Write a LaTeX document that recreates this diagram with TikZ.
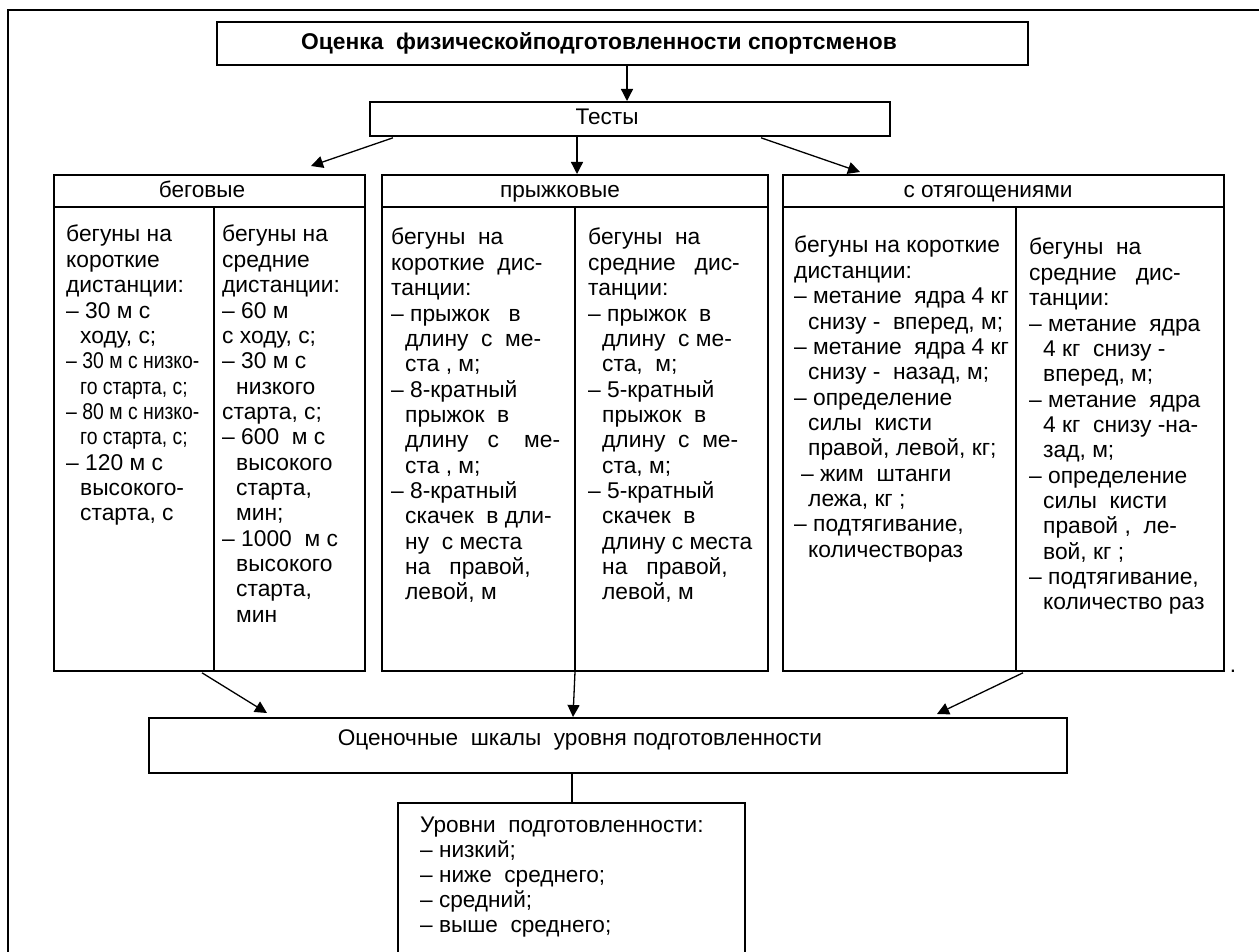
\documentclass[tikz,border=0pt]{standalone}
\usepackage{fontspec}
\setmainfont{Liberation Sans}
\usepackage{graphicx}
\usetikzlibrary{arrows.meta,calc}
\newcommand{\ind}{\hspace*{14pt}}
\newcommand{\coltext}[1]{\parbox[t]{240pt}{\raggedright\fontsize{22.8}{25.35}\selectfont #1}}
\newcommand{\sq}[1]{\scalebox{0.85}[1]{#1}}
\begin{document}
\begin{tikzpicture}[x=1pt,y=-1pt,
  box/.style={draw, rectangle, line width=1.8pt, inner sep=0pt, anchor=north west},
  lbl/.style={inner sep=0pt, anchor=base, font=\fontsize{22.6}{25}\selectfont},
  txt/.style={inner sep=0pt, anchor=base west},
  arr/.style={-{Triangle[length=12pt,width=12pt]}, line width=1.3pt},
  conn/.style={line width=1.3pt},
  rule/.style={line width=1.8pt}]
\useasboundingbox (0,0) rectangle (1259,952);
% outer frame (right and bottom sides lie off the page)
\node[box, minimum width=1320pt, minimum height=1010pt] (frame) at (7,9) {};
% boxes
\node[box, minimum width=811pt, minimum height=43pt] (title) at (216,21) {};
\node[box, minimum width=520pt, minimum height=34pt] (tests) at (369,101) {};
\node[box, minimum width=311pt, minimum height=496pt] (box1) at (53,174) {};
\node[box, minimum width=386pt, minimum height=496pt] (box2) at (381,174) {};
\node[box, minimum width=441pt, minimum height=496pt] (box3) at (782,174) {};
\node[box, minimum width=918pt, minimum height=55pt] (oc) at (148,717) {};
\node[box, minimum width=347pt, minimum height=220pt] (lev) at (397,802) {};
% header rules and dividers
\draw[rule] ($(box1.north west)+(0,33)$) -- ($(box1.north east)+(0,33)$);
\draw[rule] ($(box1.north west)+(161,33)$) -- ($(box1.south west)+(161,0)$);
\draw[rule] ($(box2.north west)+(0,33)$) -- ($(box2.north east)+(0,33)$);
\draw[rule] ($(box2.north west)+(194,33)$) -- ($(box2.south west)+(194,0)$);
\draw[rule] ($(box3.north west)+(0,33)$) -- ($(box3.north east)+(0,33)$);
\draw[rule] ($(box3.north west)+(234,33)$) -- ($(box3.south west)+(234,0)$);
% texts
\node[lbl, font=\fontsize{22.8}{25}\selectfont\bfseries] (titletext) at (599,50) {Оценка~ физическойподготовленности спортсменов};
\node[lbl] (teststext) at (607,125) {Тесты};
\node[lbl] (h1) at (202,198) {беговые};
\node[lbl] (h2) at (560,198) {прыжковые};
\node[lbl] (h3) at (988,198) {с отягощениями};
\node[lbl] (octext) at (580,745) {Оценочные~ шкалы~ уровня подготовленности};
\node[txt] (c1a) at (66,242) {\coltext{бегуны на\\короткие\\дистанции:\\– 30 м с\\\ind ходу, с;\\\sq{– 30 м с низко-}\\\ind\sq{го старта, с;}\\\sq{– 80 м с низко-}\\\ind\sq{го старта, с;}\\– 120 м с\\\ind высокого-\\\ind старта, с}};
\node[txt] (c1b) at (222,242) {\coltext{бегуны на\\средние\\дистанции:\\– 60 м\\с ходу, с;\\– 30 м с\\\ind низкого\\старта, с;\\– 600~ м с\\\ind высокого\\\ind старта,\\\ind мин;\\– 1000~ м с\\\ind высокого\\\ind старта,\\\ind мин}};
\node[txt] (c2a) at (391,245) {\coltext{бегуны~ на\\короткие~ дис-\\танции:\\– прыжок~~ в\\\ind длину~ с~ ме-\\\ind ста , м;\\– 8-кратный\\\ind прыжок~ в\\\ind длину~~ с~~~ ме-\\\ind ста , м;\\– 8-кратный\\\ind скачек~ в дли-\\\ind ну~ с места\\\ind на~~ правой,\\\ind левой, м}};
\node[txt] (c2b) at (588,245) {\coltext{бегуны~ на\\средние~~ дис-\\танции:\\– прыжок~ в\\\ind длину~ с ме-\\\ind ста,~ м;\\– 5-кратный\\\ind прыжок~ в\\\ind длину~ с~ ме-\\\ind ста, м;\\– 5-кратный\\\ind скачек~ в\\\ind длину с места\\\ind на~~ правой,\\\ind левой, м}};
\node[txt] (c3a) at (794,253) {\coltext{бегуны на короткие\\дистанции:\\– метание~ ядра 4 кг\\\ind снизу -~ вперед, м;\\– метание~ ядра 4 кг\\\ind снизу -~ назад, м;\\– определение\\\ind силы~ кисти\\\ind правой, левой, кг;\\\hspace*{7pt}– жим~ штанги\\\ind лежа, кг ;\\– подтягивание,\\\ind количествораз}};
\node[txt] (c3b) at (1029,255) {\coltext{бегуны~ на\\средние~~ дис-\\танции:\\– метание~ ядра\\\ind 4 кг~ снизу -\\\ind вперед, м;\\– метание~ ядра\\\ind 4 кг~ снизу -на-\\\ind зад, м;\\– определение\\\ind силы~ кисти\\\ind правой ,~ ле-\\\ind вой, кг ;\\– подтягивание,\\\ind количество раз}};
\node[txt] (levtext) at (420,832) {\parbox[t]{300pt}{\raggedright\fontsize{22.6}{25}\selectfont Уровни~ подготовленности:\\– низкий;\\– ниже~ среднего;\\– средний;\\– выше~ среднего;}};
\node[lbl] (dot) at (1233,672) {.};
% connectors
\draw[arr] ($(title.south west)+(411,0)$) -- ($(tests.north west)+(258,0)$);
\draw[arr] ($(tests.south west)+(24,1)$) -- ($(box1.north west)+(258,-8)$);
\draw[arr] ($(tests.south west)+(208,0)$) -- ($(box2.north west)+(196,0)$);
\draw[arr] ($(tests.south west)+(392,1)$) -- ($(box3.north west)+(78,-2)$);
\draw[arr] ($(box1.south west)+(149,1)$) -- ($(oc.north west)+(119,-4)$);
\draw[arr] ($(box2.south west)+(194,0)$) -- ($(oc.north west)+(425,0)$);
\draw[arr] ($(box3.south west)+(241,1)$) -- ($(oc.north west)+(789,-3)$);
\draw[conn] ($(oc.south west)+(424,0)$) -- ($(lev.north west)+(175,0)$);
\end{tikzpicture}
\end{document}
